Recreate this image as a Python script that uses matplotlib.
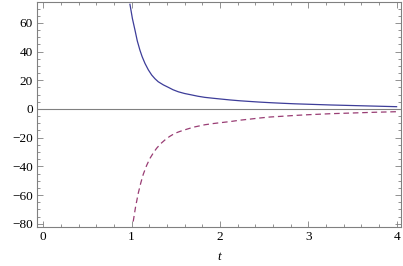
import matplotlib
matplotlib.use("Agg")
import matplotlib.pyplot as plt
from matplotlib.ticker import MultipleLocator

# data
t_blue = [0.982, 1.01, 1.039, 1.065, 1.095, 1.12, 1.152, 1.19, 1.228, 1.265, 1.302, 1.36, 1.416, 1.47, 1.529, 1.6, 1.68, 1.75, 1.83, 1.92, 2.0, 2.114, 2.23, 2.35, 2.45, 2.567, 2.7, 2.85, 3.0, 3.25, 3.5, 3.75, 4.0]
y_blue = [73, 63, 55, 47.5, 41, 36.5, 31.8, 27.3, 23.7, 21.1, 19, 16.8, 15.1, 13.4, 12, 10.8, 9.8, 8.9, 8.1, 7.5, 7.0, 6.3, 5.7, 5.2, 4.8, 4.4, 4.0, 3.6, 3.3, 2.8, 2.4, 2.0, 1.6]
t_red = [1.019, 1.045, 1.076, 1.105, 1.133, 1.17, 1.208, 1.25, 1.284, 1.33, 1.378, 1.43, 1.49, 1.55, 1.605, 1.7, 1.83, 1.92, 2.0, 2.114, 2.23, 2.35, 2.45, 2.567, 2.7, 2.85, 3.0, 3.25, 3.5, 3.75, 4.0]
y_red = [-78.5, -68.5, -58.8, -51.5, -45.5, -39.5, -34.5, -30.3, -27.4, -24.2, -21.6, -19.2, -17, -15.6, -14.5, -12.7, -11, -10.2, -9.6, -8.8, -7.8, -7, -6.3, -5.6, -5.1, -4.5, -4.0, -3.3, -2.8, -2.3, -1.9]

x_ticks = [0, 1, 2, 3, 4]
y_ticks = [-80, -60, -40, -20, 0, 20, 40, 60]
x_label = "t"

plt.rcParams['font.family'] = ['Liberation Serif', 'DejaVu Serif']

fig = plt.figure(figsize=(4.03, 2.66), dpi=100)
ax = fig.add_axes([37/403, 1 - 227/266, 364/403, 225/266])

ax.axhline(0, color='#808080', lw=0.8, zorder=1)
ax.plot(t_blue, y_blue, color='#3d3d99', lw=0.9, zorder=3)
ax.plot(t_red, y_red, color='#993d74', lw=0.9, ls=(0, (4.5, 3)), zorder=3)

ax.set_xlim(-0.07, 4.05)
ax.set_ylim(-82.3, 74.6)
ax.set_xticks(x_ticks)
ax.set_yticks(y_ticks)
ax.set_yticklabels([str(v).replace('-', '\u2212') for v in y_ticks])
ax.xaxis.set_minor_locator(MultipleLocator(0.2))
ax.yaxis.set_minor_locator(MultipleLocator(5))
ax.tick_params(which='both', direction='in', top=True, right=True, labeltop=False, labelright=False,
               color='#808080', labelsize=9.5, width=0.6, pad=3)
ax.tick_params(which='major', length=4)
ax.tick_params(which='minor', length=2)
for s in ax.spines.values():
    s.set_color('#808080')
    s.set_linewidth(0.8)
ax.set_xlabel(x_label, fontstyle='italic', fontsize=9.5, labelpad=6)

fig.savefig("out.png", dpi=100)
